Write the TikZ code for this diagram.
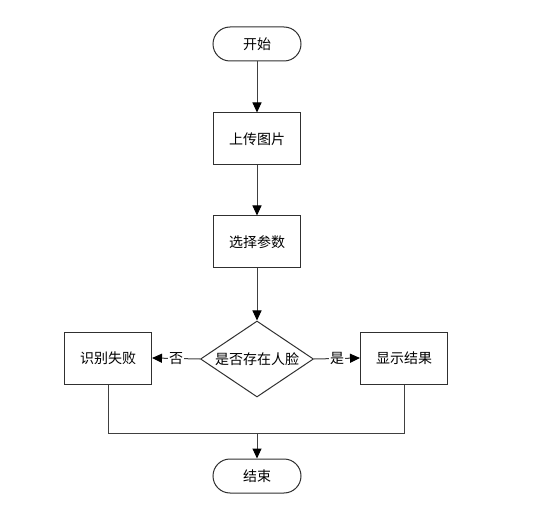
\documentclass[tikz,border=0pt]{standalone}
\usepackage{fontspec}
\newfontfamily\cjk{Noto Sans CJK SC}
\usetikzlibrary{shapes.geometric,arrows.meta}
\definecolor{edge}{HTML}{303030}
\definecolor{wire}{HTML}{404040}
\tikzset{
  every node/.style={font=\cjk\fontsize{14}{16}\selectfont, text=black},
  term/.style={draw=edge, line width=1pt, rounded corners=17pt, minimum width=88pt, minimum height=34pt, inner sep=0pt},
  procbox/.style={draw=edge, line width=1pt, minimum width=87pt, minimum height=52pt, inner sep=0pt},
  decide/.style={draw=edge, line width=1pt, diamond, aspect=1.49, minimum width=113pt, minimum height=76pt, inner sep=0pt},
  flow/.style={draw=wire, line width=1pt, -{Triangle[length=10pt,width=9pt,fill=black,color=black]}},
  plain/.style={draw=wire, line width=1pt},
  lab/.style={fill=white, inner sep=1pt}
}
\begin{document}
\begin{tikzpicture}[x=1pt,y=-1pt]
\useasboundingbox (0,0) rectangle (547,508);
\node[term] (start) at (257,44) {开始};
\node[procbox] (upload) at (257,139) {上传图片};
\node[procbox] (param) at (257,242) {选择参数};
\node[decide] (dec) at (257,359) {是否存在人脸};
\node[procbox] (fail) at (108,358) {识别失败};
\node[procbox] (show) at (404,358) {显示结果};
\node[term] (end) at (257,476) {结束};
\coordinate (merge) at (257,433);
\draw[flow] (start) -- (upload);
\draw[flow] (upload) -- (param);
\draw[flow] (param) -- (dec);
\draw[flow] (dec.west) -- node[lab, pos=0.5]{否} (fail.east);
\draw[flow] (dec.east) -- node[lab, pos=0.5]{是} (show.west);
\draw[plain] (fail.south) -- (fail.south |- merge) -- (show.south |- merge) -- (show.south);
\draw[flow] (merge) -- (end);
\end{tikzpicture}
\end{document}
